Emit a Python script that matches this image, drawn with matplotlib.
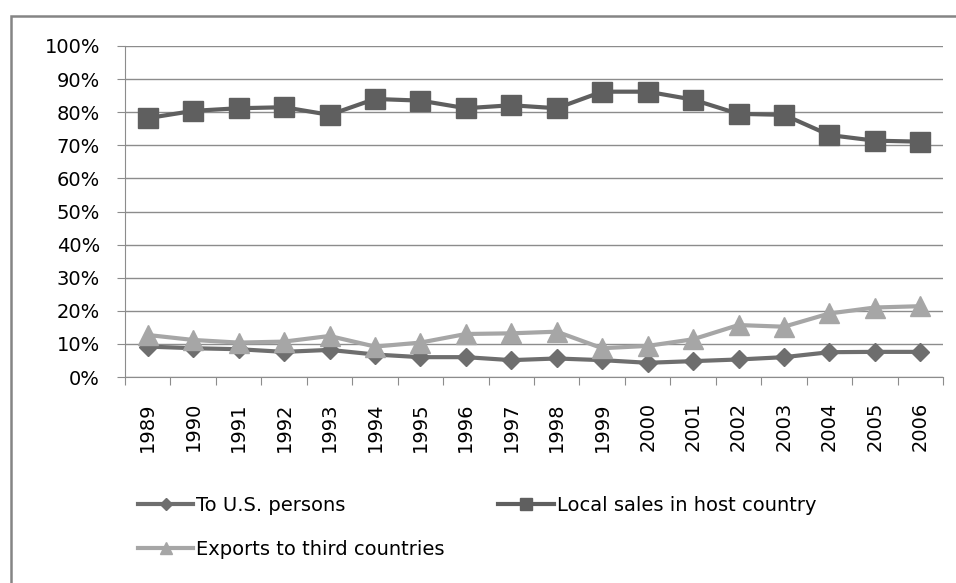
import matplotlib
matplotlib.use("Agg")
import matplotlib.pyplot as plt
import numpy as np
from matplotlib.patches import Rectangle
from matplotlib.ticker import FixedLocator, PercentFormatter

plt.rcParams['font.family'] = ['DejaVu Sans']

years = ['1989', '1990', '1991', '1992', '1993', '1994', '1995', '1996', '1997',
         '1998', '1999', '2000', '2001', '2002', '2003', '2004', '2005', '2006']

# shares of affiliate sales, in percent
us_persons = [9.2, 8.7, 8.4, 7.6, 8.2, 6.8, 6.0, 6.0, 5.1,
              5.6, 5.1, 4.3, 4.8, 5.3, 6.0, 7.5, 7.6, 7.6]
local_sales = [78.2, 80.4, 81.2, 81.5, 79.2, 84.0, 83.5, 81.2, 82.1,
               81.2, 86.2, 86.2, 83.8, 79.5, 79.2, 73.1, 71.4, 71.1]
third_countries = [12.7, 11.2, 10.4, 10.7, 12.4, 9.2, 10.4, 13.0, 13.2,
                   13.7, 8.7, 9.4, 11.4, 15.7, 15.2, 19.2, 21.0, 21.4]

fig = plt.figure(figsize=(9.56, 5.83), dpi=100)
ax = fig.add_axes([0.1308, 0.3533, 0.8556, 0.5678])

# outer chart border
fig.patches.append(Rectangle((11 / 956, -0.1), 1.2, 1 - 16 / 583 + 0.1,
                             transform=fig.transFigure, fill=False,
                             edgecolor='#858585', linewidth=1.8, zorder=0))

x = np.arange(len(years))
l_us, = ax.plot(x, us_persons, color='#6e6e6e', linewidth=3, marker='D',
                markersize=9.5, label='To U.S. persons', zorder=3)
l_local, = ax.plot(x, local_sales, color='#5f5f5f', linewidth=3, marker='s',
                   markersize=14.5, label='Local sales in host country', zorder=4)
l_exp, = ax.plot(x, third_countries, color='#a6a6a6', linewidth=3, marker='^',
                 markersize=14.5, label='Exports to third countries', zorder=5)

ax.set_xlim(-0.5, len(years) - 0.5)
ax.set_ylim(0, 100)
ax.set_yticks(np.arange(0, 101, 10))
ax.yaxis.set_major_formatter(PercentFormatter(decimals=0))
ax.grid(axis='y', color='#8c8c8c', linewidth=1)
ax.set_axisbelow(True)

# tick marks between categories, labels under each category
ax.xaxis.set_major_locator(FixedLocator(np.arange(-0.5, len(years), 1)))
ax.xaxis.set_minor_locator(FixedLocator(x))
ax.set_xticklabels([])
ax.set_xticklabels(years, minor=True, rotation=90)
ax.tick_params(axis='x', which='major', length=6, color='#8c8c8c')
ax.tick_params(axis='x', which='minor', length=0, pad=18, labelsize=14)
ax.tick_params(axis='y', length=6, color='#8c8c8c', pad=12, labelsize=14)

for side in ['top', 'right']:
    ax.spines[side].set_visible(False)
for side in ['left', 'bottom']:
    ax.spines[side].set_color('#8c8c8c')

# legend filled column by column: first column holds the U.S. and exports series
leg = fig.legend([l_us, l_exp, l_local],
                 ['To U.S. persons', 'Exports to third countries',
                  'Local sales in host country'],
                 loc='upper left', bbox_to_anchor=(138 / 956, 1 - 496 / 583),
                 ncol=2, frameon=False, fontsize=14, markerscale=0.6,
                 borderpad=0, borderaxespad=0, handlelength=2.85,
                 handletextpad=0.15, columnspacing=2.75, labelspacing=1.3)

fig.savefig('out.png', dpi=100)
